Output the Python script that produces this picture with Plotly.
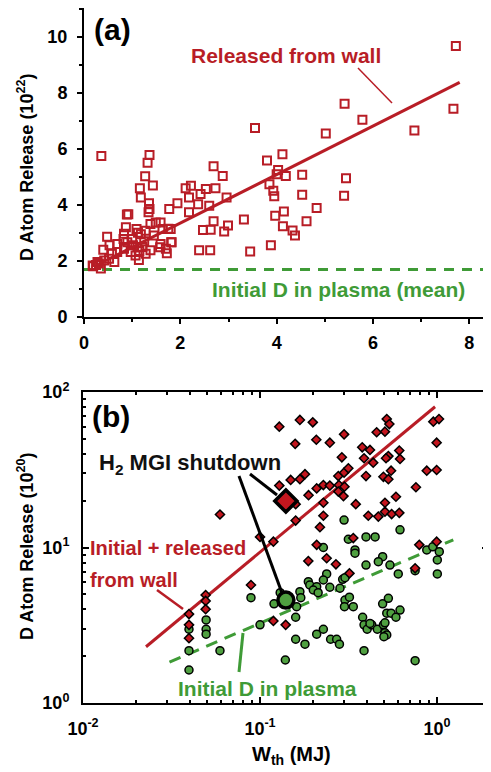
import plotly.graph_objects as go

# the page body has an 8 px margin, so the figure is laid out 8 px in from the window
OFF = 8
W, H = 491 - OFF, 772 - OFF
RED = "#B81D26"
GREEN = "#3F9B37"
GFILL = "#4FA040"
DFILL = "#C3161E"
FONT = "Liberation Sans"

# ---------------- Panel (a) data ----------------
a_x = [0.18, 0.19, 0.25, 0.28, 0.31, 0.35, 0.36, 0.42, 0.40, 0.48, 0.52, 0.53, 0.63, 0.69, 0.69,
       0.82, 0.83, 0.83, 0.87, 0.89, 0.92, 0.90, 0.97, 1.00, 1.07, 1.09, 1.11, 1.14, 1.16, 1.18,
       1.18, 1.21, 1.27, 1.28, 1.28, 1.32, 1.34, 1.35, 1.36, 1.36, 1.38, 1.38, 1.43, 1.49, 1.59,
       1.59, 1.63, 1.70, 1.72, 1.77, 1.80, 1.81, 1.94, 2.11, 2.18, 2.18, 2.22, 2.37, 2.39, 2.42,
       2.47, 2.53, 2.60, 2.63, 2.62, 2.69, 2.73, 2.69, 2.88, 2.96, 2.99, 2.91, 3.32, 3.45, 3.55,
       3.80, 3.85, 3.93, 3.95, 4.00, 4.03, 4.12, 4.19, 3.97, 4.15, 4.13, 4.33, 4.38, 3.88, 4.53,
       4.53, 4.62, 4.83, 5.02, 5.41, 5.44, 5.40, 5.78, 6.86, 7.67, 7.72, 1.12, 1.25, 1.45, 1.15,
       1.58, 1.75, 1.82, 0.58, 1.02]
a_y = [1.83, 1.80, 1.85, 1.95, 1.90, 1.72, 5.74, 2.01, 2.39, 2.86, 2.07, 2.55, 1.95, 2.31, 2.60,
       2.78, 2.43, 2.96, 3.20, 3.65, 3.66, 2.66, 2.31, 2.78, 2.19, 3.13, 2.49, 2.03, 4.59, 4.26,
       2.95, 2.49, 5.02, 2.25, 3.07, 5.50, 3.73, 4.05, 5.78, 3.85, 3.31, 2.37, 4.69, 3.37, 3.37,
       2.60, 3.13, 2.43, 2.27, 3.85, 3.13, 2.66, 4.05, 4.59, 4.26, 3.73, 4.68, 4.02, 2.37, 4.38,
       3.10, 4.56, 3.96, 3.11, 2.37, 5.38, 4.59, 3.41, 5.03, 4.26, 3.26, 3.04, 3.47, 2.33, 6.74,
       5.58, 4.73, 4.50, 4.30, 5.09, 5.24, 5.80, 5.03, 3.61, 3.76, 3.23, 3.08, 2.90, 2.55, 5.07,
       4.36, 3.41, 3.88, 6.55, 7.61, 4.95, 4.32, 7.04, 6.65, 7.43, 9.67, 3.00, 2.70, 2.90, 2.35,
       2.48, 3.14, 2.66, 2.25, 2.55]

a_fit_x = [0.25, 7.80]
a_fit_y = [1.83, 8.37]
a_init_x = [0.0, 8.45]
a_init_y = [1.69, 1.69]

# ---------------- Panel (b) data ----------------
b_red_w = [0.1285, 0.168, 0.1986, 0.158, 0.208, 0.248, 0.2985, 0.290, 0.378, 0.418, 0.387, 0.456,
           0.508, 0.520, 0.538, 0.531, 0.515, 0.612, 0.618, 0.436, 0.397, 0.498, 0.531, 0.550,
           0.760, 0.875, 0.995, 0.995, 0.953, 1.026, 0.1285, 0.149, 0.168, 0.1795, 0.188, 0.209,
           0.228, 0.248, 0.277, 0.2985, 0.3155, 0.279, 0.300, 0.296, 0.277, 0.228, 0.228, 0.3475,
           0.159, 0.508, 0.586, 0.409, 0.466, 0.508, 0.554, 0.612, 0.0594, 0.159, 0.218, 0.119,
           0.209, 0.1875, 0.238, 0.2685, 0.320, 0.3365, 0.0889, 0.0493, 0.0493, 0.0493, 0.0397,
           0.0397, 0.0397, 0.119, 0.1396, 0.752, 0.995, 0.794, 0.100]
b_red_d = [59.8, 66.1, 63.8, 46.4, 49.3, 47.2, 53.4, 38.0, 44.1, 42.4, 37.5, 55.1,
           55.6, 67.0, 62.2, 38.7, 37.5, 42.0, 37.1, 35.1, 28.8, 28.5, 27.5, 31.2,
           24.4, 31.2, 31.5, 47.2, 64.4, 67.0, 25.0, 27.2, 27.5, 29.6, 21.7, 24.0,
           25.2, 25.0, 28.8, 30.3, 32.3, 25.2, 24.6, 21.4, 22.9, 19.4, 16.0, 19.0,
           19.0, 19.4, 21.2, 16.0, 15.8, 17.0, 16.4, 16.7, 16.3, 14.9, 13.5, 10.9,
           10.4, 8.18, 8.53, 7.80, 6.82, 11.5, 5.74, 4.95, 4.53, 4.01, 3.73,
           3.18, 2.61, 3.37, 3.18, 7.35, 10.9, 10.4, 11.7]

b_grn_w = [0.2985, 0.3155, 0.397, 0.447, 0.618, 0.344, 0.344, 0.228, 0.493, 0.466, 0.397, 0.542,
           0.604, 0.752, 0.875, 0.946, 1.03, 1.004, 1.004, 0.238, 0.228, 0.1875, 0.191, 0.209,
           0.200, 0.213, 0.248, 0.283, 0.293, 0.302, 0.320, 0.300, 0.3365, 0.168, 0.130, 0.120,
           0.161, 0.159, 0.0889, 0.100, 0.0496, 0.0496, 0.0496, 0.0397, 0.0397, 0.0397, 0.0594,
           0.139, 0.159, 0.1795, 0.209, 0.228, 0.2505, 0.271, 0.281, 0.387, 0.380, 0.387, 0.403,
           0.428, 0.460, 0.498, 0.508, 0.520, 0.501, 0.493, 0.531, 0.520, 0.550, 0.586, 0.618,
           0.752, 0.508, 0.418, 0.302, 0.170]
b_grn_d = [15.0, 11.3, 11.7, 11.7, 13.0, 9.64, 9.19, 10.0, 8.73, 8.11, 7.71, 7.71,
           6.76, 7.10, 9.64, 10.1, 9.40, 8.32, 6.76, 6.76, 6.18, 6.03, 5.74, 5.60,
           5.33, 5.12, 5.55, 5.47, 6.24, 4.59, 4.79, 4.16, 4.16, 5.20, 5.12, 4.34,
           4.16, 3.56, 4.76, 3.18, 3.42, 2.98, 2.77, 2.98, 2.17, 1.63, 2.17,
           1.89, 2.57, 2.39, 2.77, 2.98, 2.57, 2.57, 2.39, 2.17, 3.56, 3.18, 2.98,
           3.18, 2.98, 3.18, 2.83, 2.74, 2.67, 4.34, 4.71, 3.78, 3.78, 3.56, 3.96,
           1.87, 3.28, 3.25, 6.40, 4.76]

h2_w = [0.140]
h2_red_d = [19.9]
h2_grn_d = [4.59]

b_fit_w = [0.0227, 0.975]
b_fit_d = [2.30, 80.4]
b_init_w = [0.0308, 1.236]
b_init_d = [1.83, 11.2]

a_xticks = [0, 2, 4, 6, 8]
a_yticks = [0, 2, 4, 6, 8, 10]
b_xticks = [0.01, 0.1, 1]
b_xtext = ["10<sup>-2</sup>", "10<sup>-1</sup>", "10<sup>0</sup>"]
b_yticks = [1, 10, 100]
b_ytext = ["10<sup>0</sup>", "10<sup>1</sup>", "10<sup>2</sup>"]


def px(x):
    return (x - OFF) / W


def py(y):
    return 1 - (y - OFF) / H


fig = go.Figure()

# panel (a)
fig.add_trace(go.Scatter(x=a_init_x, y=a_init_y, mode="lines", xaxis="x", yaxis="y",
                         line=dict(color=GREEN, width=3, dash="10px,8px"), showlegend=False))
fig.add_trace(go.Scatter(x=a_x, y=a_y, mode="markers", xaxis="x", yaxis="y",
                         marker=dict(symbol="square-open", size=8, color=RED, line=dict(width=2, color=RED)),
                         showlegend=False))
fig.add_trace(go.Scatter(x=a_fit_x, y=a_fit_y, mode="lines", xaxis="x", yaxis="y",
                         line=dict(color=RED, width=3), showlegend=False))

# panel (b)
fig.add_trace(go.Scatter(x=b_fit_w, y=b_fit_d, mode="lines", xaxis="x2", yaxis="y2",
                         line=dict(color=RED, width=3), showlegend=False))
fig.add_trace(go.Scatter(x=b_init_w, y=b_init_d, mode="lines", xaxis="x2", yaxis="y2",
                         line=dict(color=GREEN, width=3, dash="12px,8px"), showlegend=False))
fig.add_trace(go.Scatter(x=b_grn_w, y=b_grn_d, mode="markers", xaxis="x2", yaxis="y2",
                         marker=dict(symbol="circle", size=8, color=GFILL, line=dict(width=1.5, color="black")),
                         showlegend=False))
fig.add_trace(go.Scatter(x=b_red_w, y=b_red_d, mode="markers", xaxis="x2", yaxis="y2",
                         marker=dict(symbol="diamond", size=7, color=DFILL, line=dict(width=1.5, color="black")),
                         showlegend=False))

shapes = []
def seg(x0, y0, x1, y1, color, width):
    shapes.append(dict(type="line", xref="paper", yref="paper", x0=px(x0), y0=py(y0),
                       x1=px(x1), y1=py(y1), line=dict(color=color, width=width), layer="above"))

seg(358, 68, 392, 103, RED, 1.5)
seg(250, 474, 277, 495, "black", 3)
seg(239, 476, 282, 593, "black", 3)
seg(157, 590, 183, 609, RED, 2.5)
seg(243, 633, 239, 672, GREEN, 3)

fig.add_trace(go.Scatter(x=h2_w, y=h2_red_d, mode="markers", xaxis="x2", yaxis="y2",
                         marker=dict(symbol="diamond", size=17, color=DFILL, line=dict(width=3.5, color="black")),
                         showlegend=False))
fig.add_trace(go.Scatter(x=h2_w, y=h2_grn_d, mode="markers", xaxis="x2", yaxis="y2",
                         marker=dict(symbol="circle", size=16, color=GFILL, line=dict(width=3.5, color="black")),
                         showlegend=False))

tickfont = dict(family=FONT, size=18, color="black", weight=700)

anns = []
def txt(x, y, s, size, color, xanchor="center", angle=0):
    anns.append(dict(x=px(x), y=py(y), xref="paper", yref="paper", text=s, showarrow=False,
                     xanchor=xanchor, yanchor="middle", textangle=angle,
                     font=dict(family=FONT, size=size, color=color, weight=700)))

txt(112, 29, "(a)", 30, "black")
txt(286, 56, "Released from wall", 21, RED)
txt(338, 290, "Initial D in plasma (mean)", 21, GREEN)
txt(25, 168, "D Atom Release (10<sup>22</sup>)", 18, "black", angle=-90)
txt(111, 416, "(b)", 30, "black")
txt(97, 464, "H<sub>2</sub> MGI shutdown", 22, "#111111", xanchor="left")
txt(88, 548, "Initial + released", 20, RED, xanchor="left")
txt(88, 580, "from wall", 20, RED, xanchor="left")
txt(267, 688, "Initial D in plasma", 21, GREEN)
txt(25, 547, "D Atom Release (10<sup>20</sup>)", 18, "black", angle=-90)
txt(291, 755, "W<sub>th</sub> (MJ)", 20, "black")

axis_common = dict(showgrid=False, zeroline=False, showline=True, linecolor="black", linewidth=2,
                   tickfont=tickfont, tickcolor="black", tickwidth=1.5, automargin=False)

minor_b_x = [m * 10 ** e for e in (-2, -1, 0) for m in range(2, 10)]
minor_b_y = [m * 10 ** e for e in (0, 1) for m in range(2, 10)]

fig.update_layout(
    width=W, height=H, margin=dict(l=0, r=0, t=0, b=0, pad=0), autosize=False,
    paper_bgcolor="white", plot_bgcolor="white",
    xaxis=dict(domain=[px(84), 1.0], range=[0, 8.45], anchor="y", tickmode="array", tickvals=a_xticks,
               ticks="outside", ticklen=5, mirror=True, ticklabelstandoff=4,
               minor=dict(ticks="outside", ticklen=3, dtick=1, tick0=0, tickcolor="black"), **axis_common),
    yaxis=dict(domain=[py(316.7), py(6) if py(6) <= 1 else 1.0], range=[0, 11.03], anchor="x",
               tickmode="array", tickvals=a_yticks,
               ticks="outside", ticklen=5, ticklabelstandoff=6,
               minor=dict(ticks="outside", ticklen=3, dtick=1, tick0=0, tickcolor="black"), **axis_common),
    xaxis2=dict(domain=[px(83), px(488)], type="log", range=[-2, 0.288], anchor="y2", tickmode="array",
                tickvals=b_xticks, ticktext=b_xtext, ticks="inside", ticklen=6, mirror="ticks",
                ticklabelstandoff=8,
                minor=dict(ticks="inside", ticklen=3, tickmode="array", tickvals=minor_b_x, tickcolor="black"),
                **axis_common),
    yaxis2=dict(domain=[py(703), py(392)], type="log", range=[0, 2], anchor="x2", tickmode="array",
                tickvals=b_yticks, ticktext=b_ytext, ticks="inside", ticklen=6, mirror="ticks",
                ticklabelstandoff=8,
                minor=dict(ticks="inside", ticklen=3, tickmode="array", tickvals=minor_b_y, tickcolor="black"),
                **axis_common),
    shapes=shapes, annotations=anns,
)

fig.write_html("out.html")
